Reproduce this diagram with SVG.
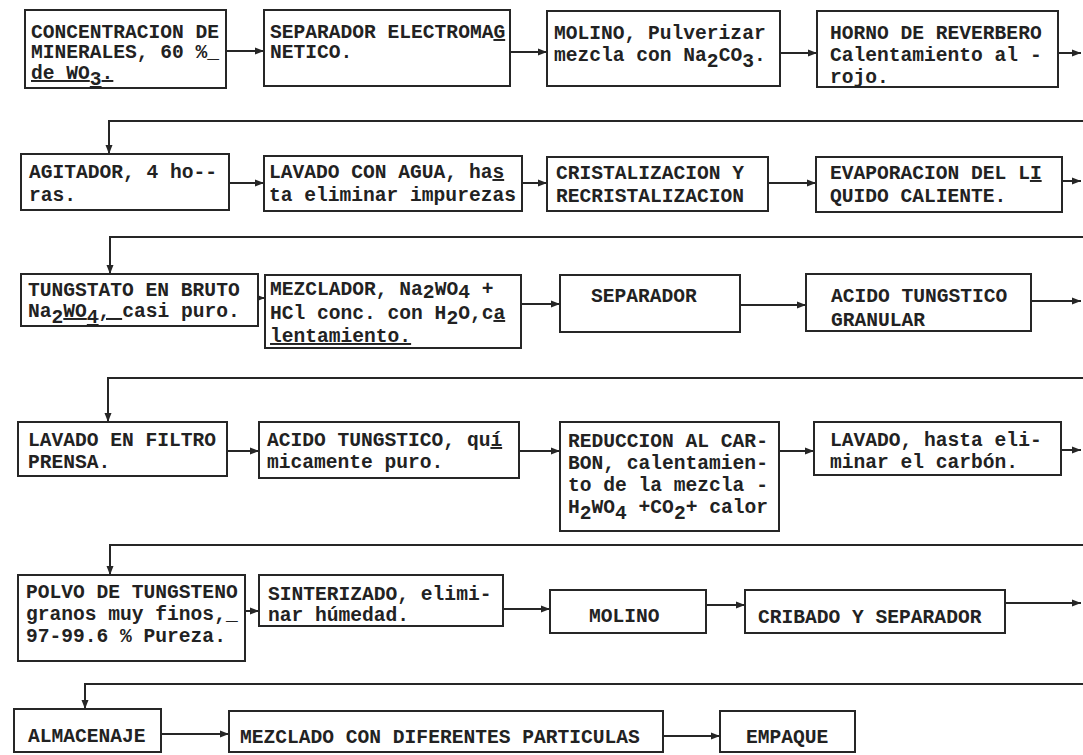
<svg xmlns="http://www.w3.org/2000/svg" width="1083" height="755" viewBox="0 0 1083 755">
<style>
  .box { fill: #fff; stroke: #262626; stroke-width: 2; }
  .t { font-family: "Liberation Mono", "DejaVu Sans Mono", monospace; font-size: 19.6px; font-weight: bold; fill: #222; }
  .u { text-decoration: underline; }
  .c { fill: none; stroke: #262626; stroke-width: 2; }
</style>
<defs>
  <marker id="ah" markerUnits="userSpaceOnUse" markerWidth="10" markerHeight="8" refX="9" refY="4" orient="auto">
    <path d="M0,0.5 L9,4 L0,7.5 z" fill="#262626"/>
  </marker>
</defs>
<rect width="1083" height="755" fill="#fff"/>

<g id="connectors">
  <line class="c" x1="226" y1="51" x2="264" y2="51" marker-end="url(#ah)"/>
  <line class="c" x1="510" y1="52" x2="547" y2="52" marker-end="url(#ah)"/>
  <line class="c" x1="780" y1="53" x2="817" y2="53" marker-end="url(#ah)"/>
  <line class="c" x1="1058" y1="53" x2="1081" y2="53" marker-end="url(#ah)"/>
  <path class="c" d="M1083,121 H109 V154" marker-end="url(#ah)"/>
  <line class="c" x1="229" y1="183" x2="264" y2="183" marker-end="url(#ah)"/>
  <line class="c" x1="522" y1="183" x2="547" y2="183" marker-end="url(#ah)"/>
  <line class="c" x1="768" y1="183" x2="816" y2="183" marker-end="url(#ah)"/>
  <line class="c" x1="1062" y1="181" x2="1081" y2="181" marker-end="url(#ah)"/>
  <path class="c" d="M1083,237 H110 V274" marker-end="url(#ah)"/>
  <line class="c" x1="258" y1="298" x2="265" y2="298" marker-end="url(#ah)"/>
  <line class="c" x1="521" y1="304" x2="560" y2="304" marker-end="url(#ah)"/>
  <line class="c" x1="740" y1="305" x2="806" y2="305" marker-end="url(#ah)"/>
  <line class="c" x1="1031" y1="301" x2="1081" y2="301" marker-end="url(#ah)"/>
  <path class="c" d="M1083,378 H108 V422" marker-end="url(#ah)"/>
  <line class="c" x1="227" y1="451" x2="259" y2="451" marker-end="url(#ah)"/>
  <line class="c" x1="519" y1="451" x2="560" y2="451" marker-end="url(#ah)"/>
  <line class="c" x1="779" y1="451" x2="814" y2="451" marker-end="url(#ah)"/>
  <line class="c" x1="1061" y1="450" x2="1081" y2="450" marker-end="url(#ah)"/>
  <path class="c" d="M1083,545 H110 V575" marker-end="url(#ah)"/>
  <line class="c" x1="245" y1="611" x2="259" y2="611" marker-end="url(#ah)"/>
  <line class="c" x1="503" y1="609" x2="550" y2="609" marker-end="url(#ah)"/>
  <line class="c" x1="706" y1="605" x2="745" y2="605" marker-end="url(#ah)"/>
  <line class="c" x1="1005" y1="603" x2="1081" y2="603" marker-end="url(#ah)"/>
  <path class="c" d="M1083,684 H85 V709" marker-end="url(#ah)"/>
  <line class="c" x1="161" y1="734" x2="229" y2="734" marker-end="url(#ah)"/>
  <line class="c" x1="663" y1="736" x2="720" y2="736" marker-end="url(#ah)"/>
</g>

<g id="n1"><rect class="box" x="25" y="10" width="201" height="78"/>
  <text class="t" x="31" y="38">CONCENTRACION DE</text>
  <text class="t" x="31" y="58">MINERALES, 60 %_</text>
  <text class="t" x="31" y="79"><tspan class="u">de WO<tspan dy="6">3</tspan><tspan dy="-6">.</tspan></tspan></text></g>
<g id="n2"><rect class="box" x="264" y="10" width="246" height="76"/>
  <text class="t" x="270" y="38">SEPARADOR ELECTROMA<tspan class="u">G</tspan></text>
  <text class="t" x="270" y="58">NETICO.</text></g>
<g id="n3"><rect class="box" x="547" y="11" width="233" height="75"/>
  <text class="t" x="554" y="39">MOLINO, Pulverizar</text>
  <text class="t" x="554" y="61">mezcla con Na<tspan dy="6">2</tspan><tspan dy="-6">CO</tspan><tspan dy="6">3</tspan><tspan dy="-6">.</tspan></text></g>
<g id="n4"><rect class="box" x="817" y="11" width="241" height="76"/>
  <text class="t" x="830" y="39">HORNO DE REVERBERO</text>
  <text class="t" x="830" y="61">Calentamiento al -</text>
  <text class="t" x="830" y="83">rojo.</text></g>

<g id="n5"><rect class="box" x="21" y="154" width="208" height="56"/>
  <text class="t" x="29" y="178">AGITADOR, 4 ho--</text>
  <text class="t" x="29" y="201">ras.</text></g>
<g id="n6"><rect class="box" x="264" y="156" width="258" height="55"/>
  <text class="t" x="269" y="178">LAVADO CON AGUA, ha<tspan class="u">s</tspan></text>
  <text class="t" x="269" y="201">ta eliminar impurezas</text></g>
<g id="n7"><rect class="box" x="547" y="157" width="221" height="54"/>
  <text class="t" x="556" y="179">CRISTALIZACION Y</text>
  <text class="t" x="556" y="202">RECRISTALIZACION</text></g>
<g id="n8"><rect class="box" x="816" y="157" width="246" height="55"/>
  <text class="t" x="830" y="179">EVAPORACION DEL L<tspan class="u">I</tspan></text>
  <text class="t" x="830" y="202">QUIDO CALIENTE.</text></g>

<g id="n9"><rect class="box" x="21" y="274" width="237" height="52"/>
  <text class="t" x="28" y="296">TUNGSTATO EN BRUTO</text>
  <text class="t" x="28" y="317">Na<tspan dy="6">2</tspan><tspan dy="-6" class="u">WO</tspan><tspan dy="6" class="u">4</tspan><tspan dy="-6" class="u">, </tspan>casi puro.</text></g>
<g id="n10"><rect class="box" x="265" y="275" width="256" height="73"/>
  <text class="t" x="270" y="295">MEZCLADOR, Na<tspan dy="3">2</tspan><tspan dy="-3">WO</tspan><tspan dy="3">4</tspan><tspan dy="-3"> +</tspan></text>
  <text class="t" x="270" y="319">HCl conc. con H<tspan dy="5">2</tspan><tspan dy="-5">O,c</tspan><tspan class="u">a</tspan></text>
  <text class="t" x="270" y="342"><tspan class="u">lentamiento.</tspan></text></g>
<g id="n11"><rect class="box" x="560" y="275" width="180" height="57"/>
  <text class="t" x="591" y="302">SEPARADOR</text></g>
<g id="n12"><rect class="box" x="806" y="274" width="225" height="57"/>
  <text class="t" x="831" y="302">ACIDO TUNGSTICO</text>
  <text class="t" x="831" y="326">GRANULAR</text></g>

<g id="n13"><rect class="box" x="18" y="422" width="209" height="54"/>
  <text class="t" x="28" y="446">LAVADO EN FILTRO</text>
  <text class="t" x="28" y="468">PRENSA.</text></g>
<g id="n14"><rect class="box" x="259" y="422" width="260" height="56"/>
  <text class="t" x="267" y="446">ACIDO TUNGSTICO, qu<tspan class="u">í</tspan></text>
  <text class="t" x="267" y="468">micamente puro.</text></g>
<g id="n15"><rect class="box" x="560" y="422" width="219" height="109"/>
  <text class="t" x="568" y="447">REDUCCION AL CAR-</text>
  <text class="t" x="568" y="469">BON, calentamien-</text>
  <text class="t" x="568" y="491">to de la mezcla -</text>
  <text class="t" x="568" y="513">H<tspan dy="6">2</tspan><tspan dy="-6">WO</tspan><tspan dy="6">4</tspan><tspan dy="-6"> +CO</tspan><tspan dy="6">2</tspan><tspan dy="-6">+ calor</tspan></text></g>
<g id="n16"><rect class="box" x="814" y="422" width="247" height="53"/>
  <text class="t" x="830" y="446">LAVADO, hasta eli-</text>
  <text class="t" x="830" y="468">minar el carbón.</text></g>

<g id="n17"><rect class="box" x="18" y="575" width="227" height="86"/>
  <text class="t" x="26" y="598">POLVO DE TUNGSTENO</text>
  <text class="t" x="26" y="620">granos muy finos,_</text>
  <text class="t" x="26" y="642">97-99.6 % Pureza.</text></g>
<g id="n18"><rect class="box" x="259" y="575" width="244" height="51"/>
  <text class="t" x="268" y="600">SINTERIZADO, elimi-</text>
  <text class="t" x="268" y="621">nar húmedad.</text></g>
<g id="n19"><rect class="box" x="550" y="590" width="156" height="43"/>
  <text class="t" x="589" y="622">MOLINO</text></g>
<g id="n20"><rect class="box" x="745" y="590" width="260" height="43"/>
  <text class="t" x="758" y="623">CRIBADO Y SEPARADOR</text></g>

<g id="n21"><rect class="box" x="14" y="709" width="147" height="43"/>
  <text class="t" x="28" y="742">ALMACENAJE</text></g>
<g id="n22"><rect class="box" x="229" y="711" width="434" height="41"/>
  <text class="t" x="240" y="743">MEZCLADO CON DIFERENTES PARTICULAS</text></g>
<g id="n23"><rect class="box" x="720" y="711" width="135" height="41"/>
  <text class="t" x="746" y="743">EMPAQUE</text></g>
</svg>
